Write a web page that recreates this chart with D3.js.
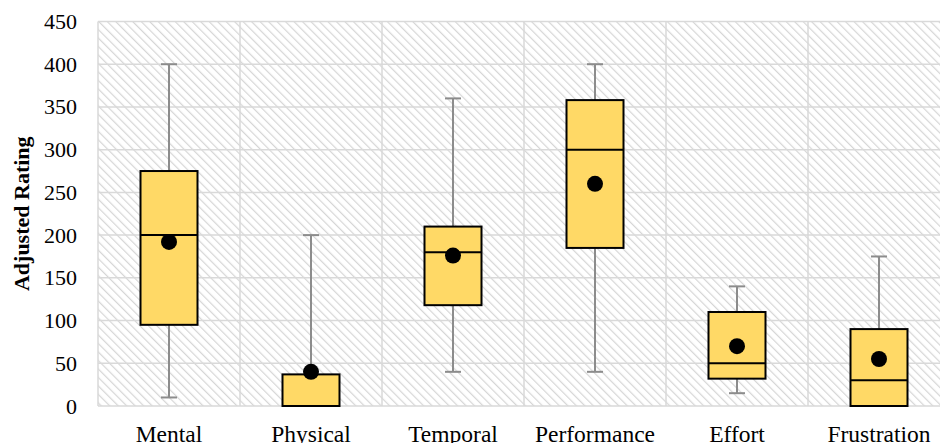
<!DOCTYPE html>
<html>
<head>
<meta charset="utf-8">
<script src="https://cdn.jsdelivr.net/npm/d3@7"></script>
<style>
  html, body { margin: 0; padding: 0; background: #fff; overflow: hidden; }
  svg { display: block; }
  svg text { font-family: "Liberation Serif", "Times New Roman", serif !important; fill: #000; }
</style>
</head>
<body>
<svg id="chart" width="940" height="443"></svg>
<script>
// box plot stats
const categories = ['Mental', 'Physical', 'Temporal', 'Performance', 'Effort', 'Frustration'];
const whiskerLow  = [10, 0, 40, 40, 15, 0];
const q1          = [95, 0, 118, 185, 32, 0];
const median      = [200, 0, 180, 300, 50, 30];
const q3          = [275, 37, 210, 358, 110, 90];
const whiskerHigh = [400, 200, 360, 400, 140, 175];
const means       = [192, 40, 176, 260, 70, 55];
const yTicks = [0, 50, 100, 150, 200, 250, 300, 350, 400, 450];

const rows = categories.map((c, i) => ({
  cat: c, lo: whiskerLow[i], q1: q1[i], med: median[i], q3: q3[i], hi: whiskerHigh[i], mean: means[i],
}));

const svg = d3.select('#chart');
// plot runs past the right edge of the window (clipped like the original)
const M = { left: 98, top: 21.5, bottom: 406 };
const bandW = 142;
const x = d3.scaleBand().domain(categories).range([M.left, M.left + bandW * categories.length]);
const y = d3.scaleLinear().domain([0, 450]).range([M.bottom, M.top]);

// hatched plot background
const defs = svg.append('defs');
const pat = defs.append('pattern')
  .attr('id', 'hatch').attr('patternUnits', 'userSpaceOnUse')
  .attr('width', 6).attr('height', 6)
  .attr('patternTransform', 'rotate(-45)');
pat.append('rect').attr('width', 6).attr('height', 6).attr('fill', '#fff');
pat.append('line').attr('x1', 0).attr('y1', 0).attr('x2', 0).attr('y2', 6)
  .attr('stroke', '#d6d6d6').attr('stroke-width', 2.4);

const plotW = x.range()[1] - M.left;
svg.append('rect')
  .attr('x', M.left).attr('y', M.top)
  .attr('width', plotW).attr('height', M.bottom - M.top)
  .attr('fill', 'url(#hatch)');

// gridlines
const grid = svg.append('g').attr('stroke', '#d9d9d9').attr('stroke-width', 1.5);
grid.selectAll('line.h').data(yTicks).enter().append('line')
  .attr('class', 'h')
  .attr('x1', M.left).attr('x2', M.left + plotW)
  .attr('y1', d => y(d)).attr('y2', d => y(d));
grid.selectAll('line.v').data(categories).enter().append('line')
  .attr('class', 'v')
  .attr('x1', d => x(d)).attr('x2', d => x(d))
  .attr('y1', M.top).attr('y2', M.bottom);

// y axis tick labels
const yAxis = svg.append('g')
  .attr('transform', `translate(${M.left},0)`)
  .call(d3.axisLeft(y).tickValues(yTicks).tickSize(0).tickPadding(21));
yAxis.select('.domain').remove();
yAxis.selectAll('text').style('font-size', '22px');

// x axis labels (bottom row is cut by the window edge, as in the original)
const xAxis = svg.append('g')
  .attr('transform', `translate(0,${M.bottom})`)
  .call(d3.axisBottom(x).tickSize(0).tickPadding(19));
xAxis.select('.domain').remove();
xAxis.selectAll('text').style('font-size', '23.5px');

// y axis title
svg.append('text')
  .attr('transform', `translate(29,${(M.top + M.bottom) / 2}) rotate(-90)`)
  .attr('text-anchor', 'middle')
  .style('font-size', '22px').style('font-weight', 'bold')
  .text('Adjusted Rating');

// boxes
const boxW = 57, capW = 16;
const cx = d => x(d.cat) + x.bandwidth() / 2;
const g = svg.append('g');

const wk = g.append('g').attr('stroke', '#8c8c8c').attr('stroke-width', 2);
wk.selectAll('line.up').data(rows).enter().append('line')
  .attr('x1', cx).attr('x2', cx)
  .attr('y1', d => y(d.q3)).attr('y2', d => y(d.hi));
wk.selectAll('line.dn').data(rows.filter(d => d.lo < d.q1)).enter().append('line')
  .attr('x1', cx).attr('x2', cx)
  .attr('y1', d => y(d.q1)).attr('y2', d => y(d.lo));
wk.selectAll('line.capHi').data(rows).enter().append('line')
  .attr('x1', d => cx(d) - capW / 2).attr('x2', d => cx(d) + capW / 2)
  .attr('y1', d => y(d.hi)).attr('y2', d => y(d.hi));
wk.selectAll('line.capLo').data(rows.filter(d => d.lo < d.q1)).enter().append('line')
  .attr('x1', d => cx(d) - capW / 2).attr('x2', d => cx(d) + capW / 2)
  .attr('y1', d => y(d.lo)).attr('y2', d => y(d.lo));

g.selectAll('rect.box').data(rows).enter().append('rect')
  .attr('x', d => cx(d) - boxW / 2)
  .attr('y', d => y(d.q3))
  .attr('width', boxW)
  .attr('height', d => y(d.q1) - y(d.q3))
  .attr('fill', '#ffd966').attr('stroke', '#000').attr('stroke-width', 2);

g.selectAll('line.med').data(rows.filter(d => d.med > d.q1)).enter().append('line')
  .attr('x1', d => cx(d) - boxW / 2).attr('x2', d => cx(d) + boxW / 2)
  .attr('y1', d => y(d.med)).attr('y2', d => y(d.med))
  .attr('stroke', '#000').attr('stroke-width', 2);

g.selectAll('circle.mean').data(rows).enter().append('circle')
  .attr('cx', cx).attr('cy', d => y(d.mean)).attr('r', 8)
  .attr('fill', '#000');
</script>
</body>
</html>
